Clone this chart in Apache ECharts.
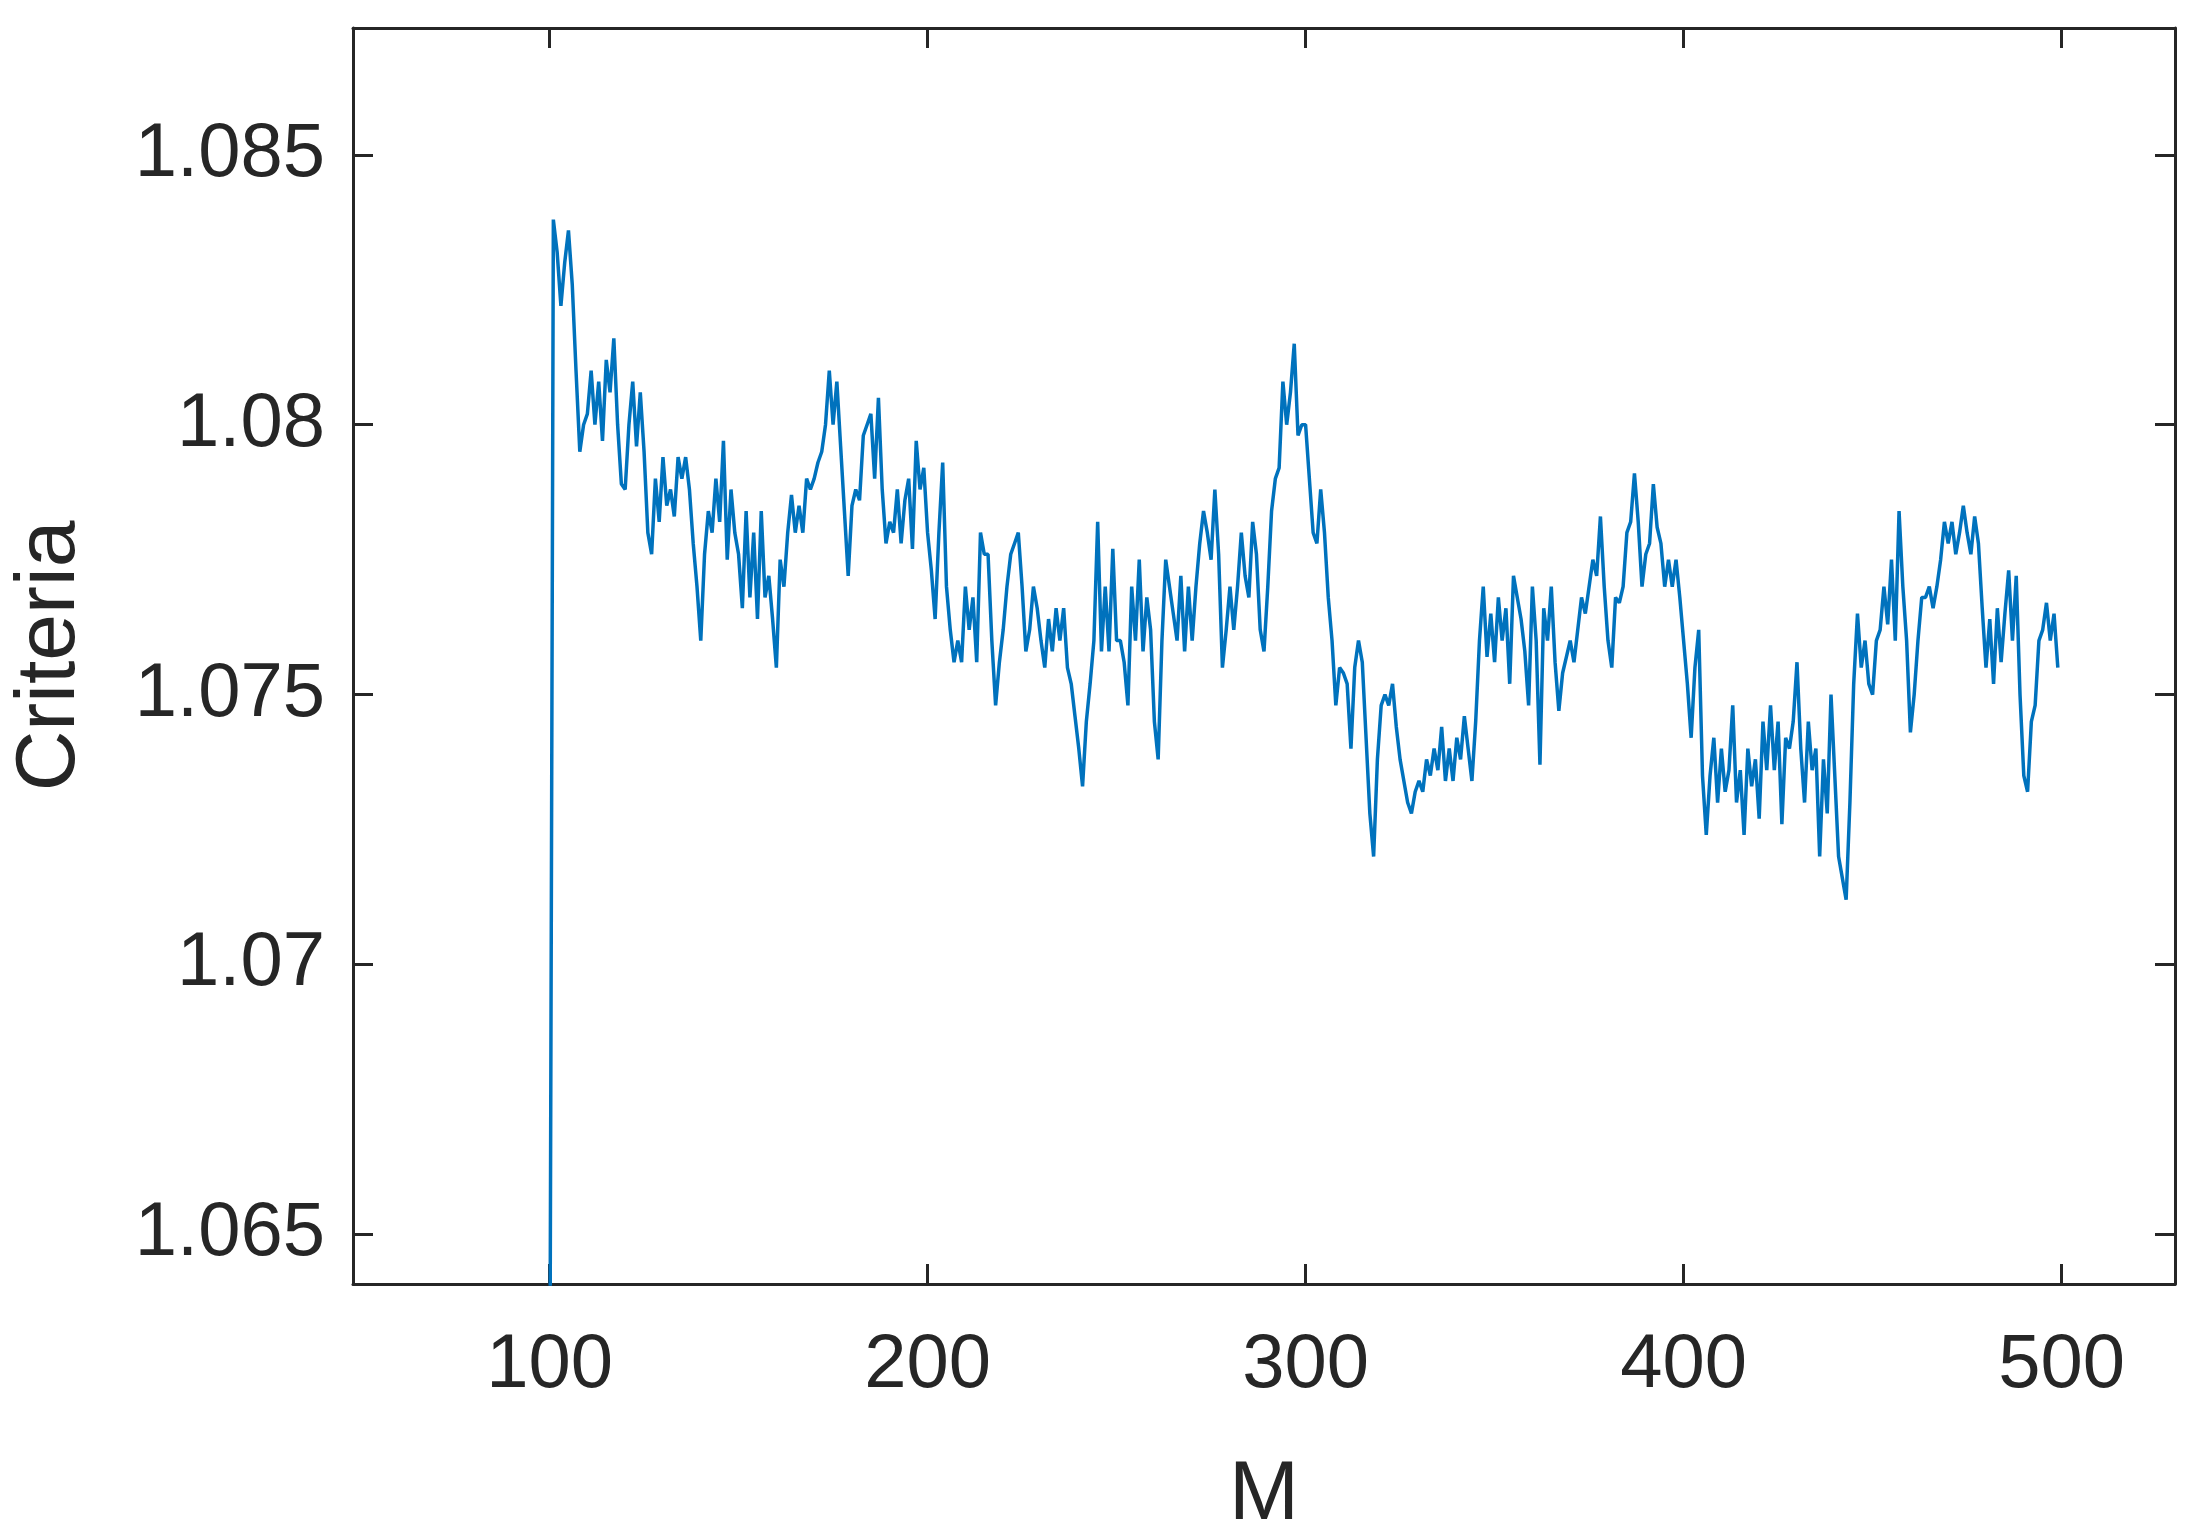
<!DOCTYPE html>
<html>
<head>
<meta charset="utf-8">
<script src="https://cdn.jsdelivr.net/npm/echarts@6/dist/echarts.min.js"></script>
<style>
  html, body { margin: 0; padding: 0; background: #fff; }
  #chart { width: 2202px; height: 1524px; }
</style>
</head>
<body>
<div id="chart"></div>
<script>
// criteria vs M, one value per M from 100 to 499
var mStart = 100;
var criteria = [
  1.0600,
  1.0838, 1.0832, 1.0822, 1.0830, 1.0836, 1.0826, 1.0810, 1.0795, 1.0800,
  1.0802, 1.0810, 1.0800, 1.0808, 1.0797, 1.0812, 1.0806, 1.0816, 1.0800, 1.0789,
  1.0788, 1.0800, 1.0808, 1.0796, 1.0806, 1.0795, 1.0780, 1.0776, 1.0790, 1.0782,
  1.0794, 1.0785, 1.0788, 1.0783, 1.0794, 1.0790, 1.0794, 1.0788, 1.0778, 1.0770,
  1.0760, 1.0776, 1.0784, 1.0780, 1.0790, 1.0782, 1.0797, 1.0775, 1.0788, 1.0780,
  1.0776, 1.0766, 1.0784, 1.0768, 1.0780, 1.0764, 1.0784, 1.0768, 1.0772, 1.0764,
  1.0755, 1.0775, 1.0770, 1.0780, 1.0787, 1.0780, 1.0785, 1.0780, 1.0790, 1.0788,
  1.0790, 1.0793, 1.0795, 1.0800, 1.0810, 1.0800, 1.0808, 1.0796, 1.0784, 1.0772,
  1.0785, 1.0788, 1.0786, 1.0798, 1.0800, 1.0802, 1.0790, 1.0805, 1.0788, 1.0778,
  1.0782, 1.0780, 1.0788, 1.0778, 1.0786, 1.0790, 1.0777, 1.0797, 1.0788, 1.0792,
  1.0780, 1.0773, 1.0764, 1.0780, 1.0793, 1.0770, 1.0762, 1.0756, 1.0760, 1.0756,
  1.0770, 1.0762, 1.0768, 1.0756, 1.0780, 1.0776, 1.0776, 1.0760, 1.0748, 1.0756,
  1.0762, 1.0770, 1.0776, 1.0778, 1.0780, 1.0770, 1.0758, 1.0762, 1.0770, 1.0766,
  1.0760, 1.0755, 1.0764, 1.0758, 1.0766, 1.0760, 1.0766, 1.0755, 1.0752, 1.0746,
  1.0740, 1.0733, 1.0745, 1.0752, 1.0760, 1.0782, 1.0758, 1.0770, 1.0758, 1.0777,
  1.0760, 1.0760, 1.0756, 1.0748, 1.0770, 1.0760, 1.0775, 1.0758, 1.0768, 1.0762,
  1.0745, 1.0738, 1.0760, 1.0775, 1.0770, 1.0765, 1.0760, 1.0772, 1.0758, 1.0770,
  1.0760, 1.0770, 1.0778, 1.0784, 1.0780, 1.0775, 1.0788, 1.0776, 1.0755, 1.0762,
  1.0770, 1.0762, 1.0770, 1.0780, 1.0772, 1.0768, 1.0782, 1.0776, 1.0762, 1.0758,
  1.0770, 1.0784, 1.0790, 1.0792, 1.0808, 1.0800, 1.0806, 1.0815, 1.0798, 1.0800,
  1.0800, 1.0790, 1.0780, 1.0778, 1.0788, 1.0780, 1.0768, 1.0760, 1.0748, 1.0755,
  1.0754, 1.0752, 1.0740, 1.0755, 1.0760, 1.0756, 1.0742, 1.0728, 1.0720, 1.0738,
  1.0748, 1.0750, 1.0748, 1.0752, 1.0744, 1.0738, 1.0734, 1.0730, 1.0728, 1.0732,
  1.0734, 1.0732, 1.0738, 1.0735, 1.0740, 1.0736, 1.0744, 1.0734, 1.0740, 1.0734,
  1.0742, 1.0738, 1.0746, 1.0740, 1.0734, 1.0745, 1.0760, 1.0770, 1.0757, 1.0765,
  1.0756, 1.0768, 1.0760, 1.0766, 1.0752, 1.0772, 1.0768, 1.0764, 1.0758, 1.0748,
  1.0770, 1.0760, 1.0737, 1.0766, 1.0760, 1.0770, 1.0756, 1.0747, 1.0754, 1.0757,
  1.0760, 1.0756, 1.0762, 1.0768, 1.0765, 1.0770, 1.0775, 1.0772, 1.0783, 1.0770,
  1.0760, 1.0755, 1.0768, 1.0767, 1.0770, 1.0780, 1.0782, 1.0791, 1.0782, 1.0770,
  1.0776, 1.0778, 1.0789, 1.0781, 1.0778, 1.0770, 1.0775, 1.0770, 1.0775, 1.0768,
  1.0760, 1.0752, 1.0742, 1.0755, 1.0762, 1.0735, 1.0724, 1.0735, 1.0742, 1.0730,
  1.0740, 1.0732, 1.0736, 1.0748, 1.0730, 1.0736, 1.0724, 1.0740, 1.0733, 1.0738,
  1.0727, 1.0745, 1.0736, 1.0748, 1.0736, 1.0745, 1.0726, 1.0742, 1.0740, 1.0745,
  1.0756, 1.0740, 1.0730, 1.0745, 1.0736, 1.0740, 1.0720, 1.0738, 1.0728, 1.0750,
  1.0735, 1.0720, 1.0716, 1.0712, 1.0730, 1.0752, 1.0765, 1.0755, 1.0760, 1.0752,
  1.0750, 1.0760, 1.0762, 1.0770, 1.0763, 1.0775, 1.0760, 1.0784, 1.0770, 1.0760,
  1.0743, 1.0750, 1.0760, 1.0768, 1.0768, 1.0770, 1.0766, 1.0770, 1.0775, 1.0782,
  1.0778, 1.0782, 1.0776, 1.0780, 1.0785, 1.0780, 1.0776, 1.0783, 1.0778, 1.0766,
  1.0755, 1.0764, 1.0752, 1.0766, 1.0756, 1.0765, 1.0773, 1.0760, 1.0772, 1.0750,
  1.0735, 1.0732, 1.0745, 1.0748, 1.0760, 1.0762, 1.0767, 1.0760, 1.0765, 1.0755
];
var xTicks = [100, 200, 300, 400, 500];
var yTicks = [1.065, 1.07, 1.075, 1.08, 1.085];

var ink = '#262626';
var font = 'Liberation Sans, Arial, sans-serif';
var points = criteria.map(function(v, i) { return [mStart + i, v]; });

var chart = echarts.init(document.getElementById('chart'), null, { renderer: 'canvas' });

function boxAxis(extra) {
  var base = {
    axisLine: { show: true, onZero: false, lineStyle: { color: ink, width: 3 } },
    axisTick: { show: true, inside: true, length: 20, lineStyle: { color: ink, width: 3 } },
    splitLine: { show: false },
    axisLabel: { show: false }
  };
  return Object.assign(base, extra);
}

chart.setOption({
  animation: false,
  backgroundColor: '#fff',
  grid: { left: 353, right: 27, top: 28, bottom: 240, outerBoundsMode: 'none', containLabel: false },
  xAxis: [
    boxAxis({
      type: 'value', position: 'bottom', min: 48, max: 530,
      axisTick: { show: true, inside: true, length: 20, customValues: xTicks, lineStyle: { color: ink, width: 3 } },
      axisLabel: { show: true, customValues: xTicks, color: ink, fontSize: 76, fontFamily: font, margin: 44 },
      name: 'M', nameLocation: 'middle', nameGap: 170,
      nameTextStyle: { color: ink, fontSize: 84, fontFamily: font }
    }),
    boxAxis({
      type: 'value', position: 'top', min: 48, max: 530,
      axisTick: { show: true, inside: true, length: 20, customValues: xTicks, lineStyle: { color: ink, width: 3 } }
    })
  ],
  yAxis: [
    boxAxis({
      type: 'value', position: 'left', min: 1.06408, max: 1.08735,
      axisTick: { show: true, inside: true, length: 20, customValues: yTicks, lineStyle: { color: ink, width: 3 } },
      axisLabel: {
        show: true, customValues: yTicks, color: ink, fontSize: 76, fontFamily: font, margin: 28,
        formatter: function(v) { return String(+v.toFixed(3)); }
      },
      name: 'Criteria', nameLocation: 'middle', nameGap: 260,
      nameTextStyle: { color: ink, fontSize: 84, fontFamily: font }
    }),
    boxAxis({
      type: 'value', position: 'right', min: 1.06408, max: 1.08735,
      axisTick: { show: true, inside: true, length: 20, customValues: yTicks, lineStyle: { color: ink, width: 3 } }
    })
  ],
  series: [{
    type: 'line',
    data: points,
    showSymbol: false,
    clip: true,
    lineStyle: { color: '#0072BD', width: 3.5 }
  }]
});
</script>
</body>
</html>
